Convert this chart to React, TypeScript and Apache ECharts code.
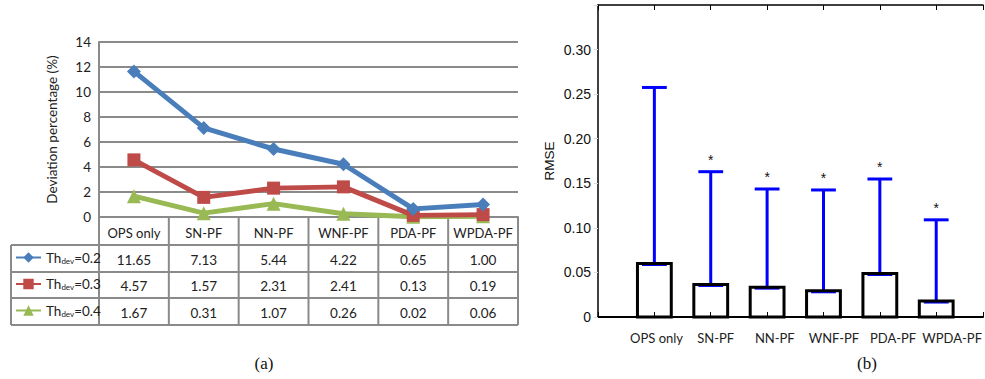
import React, { useEffect, useRef } from "react";
import * as echarts from "echarts";

const categories = ["OPS only", "SN-PF", "NN-PF", "WNF-PF", "PDA-PF", "WPDA-PF"];
const thresholds = ["0.2", "0.3", "0.4"];
const dev02 = [11.65, 7.13, 5.44, 4.22, 0.65, 1.0];
const dev03 = [4.57, 1.57, 2.31, 2.41, 0.13, 0.19];
const dev04 = [1.67, 0.31, 1.07, 0.26, 0.02, 0.06];
const devSeries = [dev02, dev03, dev04];
const rmseBox = [0.06, 0.0365, 0.0335, 0.0294, 0.0488, 0.0179];
const rmseUpper = [0.2575, 0.163, 0.1436, 0.1425, 0.1548, 0.109];
const rmseSignificant = [false, true, true, true, true, true];

const COLORS = ["#4a7ebb", "#be4b48", "#98b954"];
const SYMBOLS = ["diamond", "rect", "triangle"];
const SYMBOL_SIZES = [14, 13, 14];
const GRID_GREY = "#8a8a8a";
const SANS = "Lato";
const ARIAL = "Liberation Sans";
const SERIF = "Liberation Serif";

const rowCenters = [258.5, 285, 311.5];
const rowLines = [245, 272, 298, 325];
const tableLeft = 11;

export default function App() {
  const ref = useRef<HTMLDivElement>(null);
  useEffect(() => {
    if (!ref.current) return;
    const chart = echarts.init(ref.current, undefined, { renderer: "svg" });
    const names = thresholds.map((t) => `Th_dev=${t}`);
    const option: any = {
      animation: false,
      backgroundColor: "#ffffff",
      grid: [
        { left: 99, top: 42, width: 419, height: 175 },
        { left: 598, top: 5, width: 385, height: 312 },
        { left: 627, top: 5, width: 355, height: 312 },
      ],
      legend: names.map((n, i) => ({
        data: [n],
        left: tableLeft + 4,
        top: rowCenters[i] - 8,
        itemWidth: 25,
        itemHeight: 13,
        padding: 0,
        itemGap: 0,
        selectedMode: false,
        formatter: (name: string) => `{a|Th}{b|dev}{a|=${name.split("=")[1]}}`,
        textStyle: {
          rich: {
            a: { fontSize: 13.5, fontFamily: SANS, color: "#222" },
            b: { fontSize: 8, fontFamily: SANS, color: "#222", padding: [6, 0, 0, 0] },
          },
        },
      })),
      xAxis: [
        {
          type: "category",
          gridIndex: 0,
          data: categories,
          boundaryGap: true,
          axisLine: { lineStyle: { color: GRID_GREY, width: 2 } },
          axisTick: { show: false },
          axisLabel: { interval: 0, margin: 9, fontSize: 13, fontFamily: SANS, color: "#222" },
        },
        {
          type: "value",
          gridIndex: 1,
          min: 0,
          max: 6.83,
          interval: 1,
          position: "bottom",
          axisLine: { onZero: false, lineStyle: { color: "#000", width: 2 } },
          axisTick: { inside: true, length: 5, lineStyle: { color: "#000", width: 1 } },
          axisLabel: { show: false },
          splitLine: { show: false },
        },
        {
          type: "value",
          gridIndex: 1,
          min: 0,
          max: 6.83,
          interval: 1,
          position: "top",
          axisLine: { onZero: false, lineStyle: { color: "#000", width: 1.5 } },
          axisTick: { inside: true, length: 5, lineStyle: { color: "#000", width: 1 } },
          axisLabel: { show: false },
          splitLine: { show: false },
        },
        {
          type: "category",
          gridIndex: 2,
          data: categories,
          boundaryGap: true,
          axisLine: { show: false },
          axisTick: { show: false },
          axisLabel: { interval: 0, margin: 14, fontSize: 13, fontFamily: SANS, color: "#222" },
        },
      ],
      yAxis: [
        {
          type: "value",
          gridIndex: 0,
          min: 0,
          max: 14,
          interval: 2,
          name: "Deviation percentage (%)",
          nameLocation: "middle",
          nameGap: 40,
          nameRotate: 90,
          nameTextStyle: { fontSize: 13.5, fontFamily: SANS, color: "#222" },
          axisLine: { show: true, lineStyle: { color: GRID_GREY, width: 2 } },
          axisTick: { show: false },
          axisLabel: { margin: 8, fontSize: 13.5, fontFamily: SANS, color: "#222" },
          splitLine: { lineStyle: { color: GRID_GREY, width: 2 } },
        },
        {
          type: "value",
          gridIndex: 1,
          min: 0,
          max: 0.35,
          interval: 0.05,
          name: "RMSE",
          nameLocation: "middle",
          nameGap: 42,
          nameRotate: 90,
          nameTextStyle: { fontSize: 13.5, fontFamily: ARIAL, color: "#111" },
          axisLine: { show: true, onZero: false, lineStyle: { color: "#000", width: 1.5 } },
          axisTick: { show: false },
          axisLabel: {
            margin: 7,
            fontSize: 14,
            fontFamily: ARIAL,
            color: "#111",
            formatter: (v: number) => (v > 0.33 ? "" : v === 0 ? "0" : v.toFixed(2)),
          },
          splitLine: { show: false },
        },
        {
          type: "value",
          gridIndex: 1,
          min: 0,
          max: 0.35,
          interval: 0.05,
          position: "right",
          axisLine: { show: false },
          axisTick: { show: true, inside: true, length: 4, lineStyle: { color: "#d8d8d8" } },
          axisLabel: { show: false },
          splitLine: { show: false },
        },
        {
          type: "value",
          gridIndex: 2,
          show: false,
        },
      ],
      series: [
        ...devSeries.map((d, i) => ({
          type: "line",
          name: names[i],
          xAxisIndex: 0,
          yAxisIndex: 0,
          data: d,
          symbol: SYMBOLS[i],
          symbolSize: SYMBOL_SIZES[i],
          lineStyle: { width: 5, color: COLORS[i] },
          itemStyle: { color: COLORS[i] },
          z: 10 - i,
        })),
        {
          type: "custom",
          xAxisIndex: 1,
          yAxisIndex: 1,
          clip: false,
          data: rmseBox.map((v, i) => [i + 1, v, rmseUpper[i], rmseSignificant[i] ? 1 : 0]),
          renderItem: (params: any, api: any) => {
            const x = api.value(0);
            const box = api.value(1);
            const up = api.value(2);
            const sig = api.value(3);
            const base = api.coord([x, 0]);
            const top = api.coord([x, box]);
            const cap = api.coord([x, up]);
            const bw = api.size([0.6, 0])[0];
            const cw = api.size([0.44, 0])[0];
            const children: any[] = [
              {
                type: "line",
                shape: { x1: top[0], y1: top[1], x2: cap[0], y2: cap[1] },
                style: { stroke: "#0000ff", lineWidth: 3 },
              },
              {
                type: "line",
                shape: { x1: cap[0] - cw / 2, y1: cap[1], x2: cap[0] + cw / 2, y2: cap[1] },
                style: { stroke: "#0000ff", lineWidth: 3 },
              },
              {
                type: "line",
                shape: { x1: top[0] - cw / 2, y1: top[1] + 1.5, x2: top[0] + cw / 2, y2: top[1] + 1.5 },
                style: { stroke: "#0000ff", lineWidth: 2 },
              },
              {
                type: "rect",
                shape: { x: base[0] - bw / 2, y: top[1], width: bw, height: base[1] - top[1] },
                style: { fill: "none", stroke: "#000", lineWidth: 3 },
              },
            ];
            if (sig) {
              children.push({
                type: "text",
                style: {
                  text: "*",
                  x: cap[0],
                  y: cap[1] - 12,
                  align: "center",
                  verticalAlign: "middle",
                  fontSize: 14,
                  fontFamily: ARIAL,
                  fill: "#111",
                },
              });
            }
            return { type: "group", children };
          },
        },
      ],
    };
    chart.setOption(option);

    // table built from the category axis positions
    const centers = categories.map((_, i) => chart.convertToPixel({ xAxisIndex: 0 }, i) as number);
    const half = (centers[1] - centers[0]) / 2;
    const leftEdge = centers[0] - half;
    const rightEdge = centers[centers.length - 1] + half;
    const axisY = chart.convertToPixel({ yAxisIndex: 0 }, 0) as number;
    const lineStyle = { stroke: GRID_GREY, lineWidth: 2 };
    const els: any[] = [];
    rowLines.forEach((y) => {
      els.push({ type: "line", shape: { x1: tableLeft, y1: y, x2: rightEdge, y2: y }, style: lineStyle });
    });
    els.push({ type: "line", shape: { x1: tableLeft, y1: rowLines[0], x2: tableLeft, y2: rowLines[3] }, style: lineStyle });
    els.push({ type: "line", shape: { x1: leftEdge, y1: axisY, x2: leftEdge, y2: rowLines[3] }, style: lineStyle });
    centers.forEach((c) => {
      els.push({ type: "line", shape: { x1: c + half, y1: axisY, x2: c + half, y2: rowLines[3] }, style: lineStyle });
    });
    devSeries.forEach((d, r) => {
      d.forEach((v, i) => {
        els.push({
          type: "text",
          style: {
            text: v.toFixed(2),
            x: centers[i],
            y: rowCenters[r] + 1,
            align: "center",
            verticalAlign: "middle",
            fontSize: 13.5,
            fontFamily: SANS,
            fill: "#222",
          },
        });
      });
    });
    els.push({
      type: "text",
      style: { text: "(a)", x: 264, y: 363, align: "center", verticalAlign: "middle", fontSize: 17, fontFamily: SERIF, fill: "#111" },
    });
    els.push({
      type: "text",
      style: { text: "(b)", x: 867, y: 363, align: "center", verticalAlign: "middle", fontSize: 17, fontFamily: SERIF, fill: "#111" },
    });
    chart.setOption({ graphic: { elements: els } });

    return () => chart.dispose();
  }, []);
  return (
    <div
      ref={ref}
      style={{ position: "fixed", left: 0, top: 0, width: 985, height: 379, background: "#fff" }}
    />
  );
}
